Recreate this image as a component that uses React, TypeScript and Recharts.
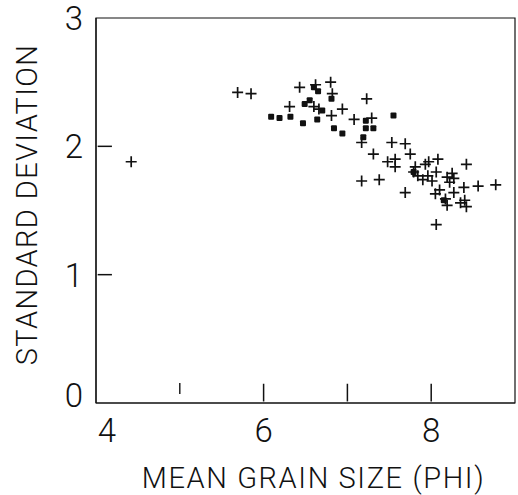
import React from "react";
import { ScatterChart, Scatter, XAxis, YAxis, ReferenceArea, ReferenceLine } from "recharts";

// mean grain size (phi), standard deviation
const plusPoints: [number, number][] = [
  [4.42, 1.88], [5.69, 2.42], [5.85, 2.41], [6.43, 2.46], [6.31, 2.31],
  [6.62, 2.48], [6.8, 2.5], [6.82, 2.41], [6.6, 2.31], [6.66, 2.29],
  [6.81, 2.24], [6.94, 2.29], [7.23, 2.37], [7.08, 2.21], [7.29, 2.22],
  [7.17, 2.03], [7.31, 1.94], [7.17, 1.73], [7.38, 1.74], [7.53, 2.03],
  [7.69, 2.02], [7.75, 1.94], [7.48, 1.88], [7.57, 1.9], [7.57, 1.84],
  [7.69, 1.64], [7.81, 1.84], [7.93, 1.86], [7.97, 1.88], [8.08, 1.9],
  [8.42, 1.86], [7.79, 1.8], [7.84, 1.77], [7.9, 1.74], [7.96, 1.77],
  [8.01, 1.73], [8.06, 1.8], [8.19, 1.76], [8.25, 1.79], [8.22, 1.72],
  [8.27, 1.75], [8.39, 1.68], [8.56, 1.69], [8.77, 1.7], [8.05, 1.63],
  [8.1, 1.66], [8.27, 1.64], [8.17, 1.59], [8.19, 1.54], [8.35, 1.56],
  [8.4, 1.58], [8.42, 1.53], [8.06, 1.39],
];

const squarePoints: [number, number][] = [
  [6.09, 2.23], [6.19, 2.22], [6.32, 2.23], [6.47, 2.18], [6.49, 2.33],
  [6.55, 2.36], [6.6, 2.46], [6.65, 2.43], [6.64, 2.21], [6.7, 2.28],
  [6.81, 2.37], [6.84, 2.14], [6.94, 2.1], [7.22, 2.2], [7.22, 2.14],
  [7.31, 2.14], [7.19, 2.07], [7.55, 2.24], [8.15, 1.58], [7.79, 1.8],
];

const xTicks = [4, 5, 6, 7, 8, 9];
const xLabels = [4, 6, 8];
const xInnerTicks = [6, 7, 8];
const xMinorTicks = [5];
const yTicks = [0, 1, 2, 3];
const yInnerTicks = [1, 2];

const X_MIN = 4;
const Y_MIN = 0;
const X_TICK_GAP = 0.02;
const X_TICK_LEN = 0.19; // in phi units (~16px)
const Y_TICK_GAP = 0.012;
const Y_TICK_LEN = 0.15; // in sd units (~19px)

const INK = "#111";
const FONT = "Roboto, 'Liberation Sans', sans-serif";

const toRows = (pts: [number, number][]) => pts.map(([x, y]) => ({ x, y }));

function PlusShape(props: any) {
  const { cx, cy } = props;
  const h = 5.5;
  return (
    <path d={`M${cx - h},${cy}H${cx + h}M${cx},${cy - h}V${cy + h}`} stroke={INK} strokeWidth={1.7} fill="none" />
  );
}

function SquareShape(props: any) {
  const { cx, cy } = props;
  return <rect x={cx - 3} y={cy - 3} width={6} height={6} rx={1} fill={INK} />;
}

function XTick(props: any) {
  const { x, y, payload } = props;
  const v = Math.round(payload.value);
  if (!xLabels.includes(v)) return <g />;
  return (
    <text x={x + (v === 4 ? 11 : 0)} y={y + 39} textAnchor="middle" fontSize={33} fontWeight={300} fontFamily={FONT} fill={INK}>
      {v}
    </text>
  );
}

function YTick(props: any) {
  const { x, y, payload } = props;
  const v = Math.round(payload.value);
  return (
    <text x={x - 13} y={y + 12 - (v === 0 ? 8 : 0)} textAnchor="end" fontSize={33} fontWeight={300} fontFamily={FONT} fill={INK}>
      {v}
    </text>
  );
}

function XTitle(props: any) {
  const { viewBox } = props;
  return (
    <text x={viewBox.x + viewBox.width / 2 + 8} y={viewBox.y + 85} textAnchor="middle" fontSize={29} fontWeight={300} letterSpacing={1.6} fontFamily={FONT} fill={INK}>
      MEAN GRAIN SIZE (PHI)
    </text>
  );
}

function YTitle(props: any) {
  const { viewBox } = props;
  const cx = viewBox.x + 37;
  const cy = viewBox.y + viewBox.height / 2 - 6;
  return (
    <text x={cx} y={cy} transform={`rotate(-90 ${cx} ${cy})`} textAnchor="middle" fontSize={29} fontWeight={300} letterSpacing={1.4} fontFamily={FONT} fill={INK}>
      STANDARD DEVIATION
    </text>
  );
}

export default function App() {
  return (
    <div style={{ position: "absolute", left: 0, top: 0, background: "#fff" }}>
      <ScatterChart width={518} height={495} margin={{ top: 18, right: 3, bottom: 0, left: 0 }}>
        <XAxis
          type="number"
          dataKey="x"
          domain={[4, 9]}
          ticks={xTicks}
          interval={0}
          axisLine={{ stroke: INK, strokeWidth: 1.2 }}
          tickLine={false}
          tickSize={0}
          tickMargin={0}
          height={92}
          tick={<XTick />}
          label={<XTitle />}
        />
        <YAxis
          type="number"
          dataKey="y"
          domain={[0, 3]}
          ticks={yTicks}
          interval={0}
          axisLine={{ stroke: INK, strokeWidth: 1.2 }}
          tickLine={false}
          tickSize={0}
          tickMargin={0}
          width={96}
          tick={<YTick />}
          label={<YTitle />}
        />
        <ReferenceArea x1={4} x2={9} y1={0} y2={3} fill="none" stroke={INK} strokeWidth={1.2} />
        {xInnerTicks.map((t) => (
          <ReferenceLine key={`xt${t}`} segment={[{ x: t, y: Y_MIN + Y_TICK_GAP }, { x: t, y: Y_MIN + Y_TICK_LEN }]} stroke={INK} strokeWidth={1.5} />
        ))}
        {xMinorTicks.map((t) => (
          <ReferenceLine key={`xm${t}`} segment={[{ x: t, y: Y_MIN + 0.07 }, { x: t, y: Y_MIN + 0.155 }]} stroke={INK} strokeWidth={1.4} />
        ))}
        {yInnerTicks.map((t) => (
          <ReferenceLine key={`yt${t}`} segment={[{ x: X_MIN + X_TICK_GAP, y: t }, { x: X_MIN + X_TICK_LEN, y: t }]} stroke={INK} strokeWidth={1.5} />
        ))}
        <Scatter data={toRows(squarePoints)} shape={<SquareShape />} isAnimationActive={false} />
        <Scatter data={toRows(plusPoints)} shape={<PlusShape />} isAnimationActive={false} />
      </ScatterChart>
    </div>
  );
}
